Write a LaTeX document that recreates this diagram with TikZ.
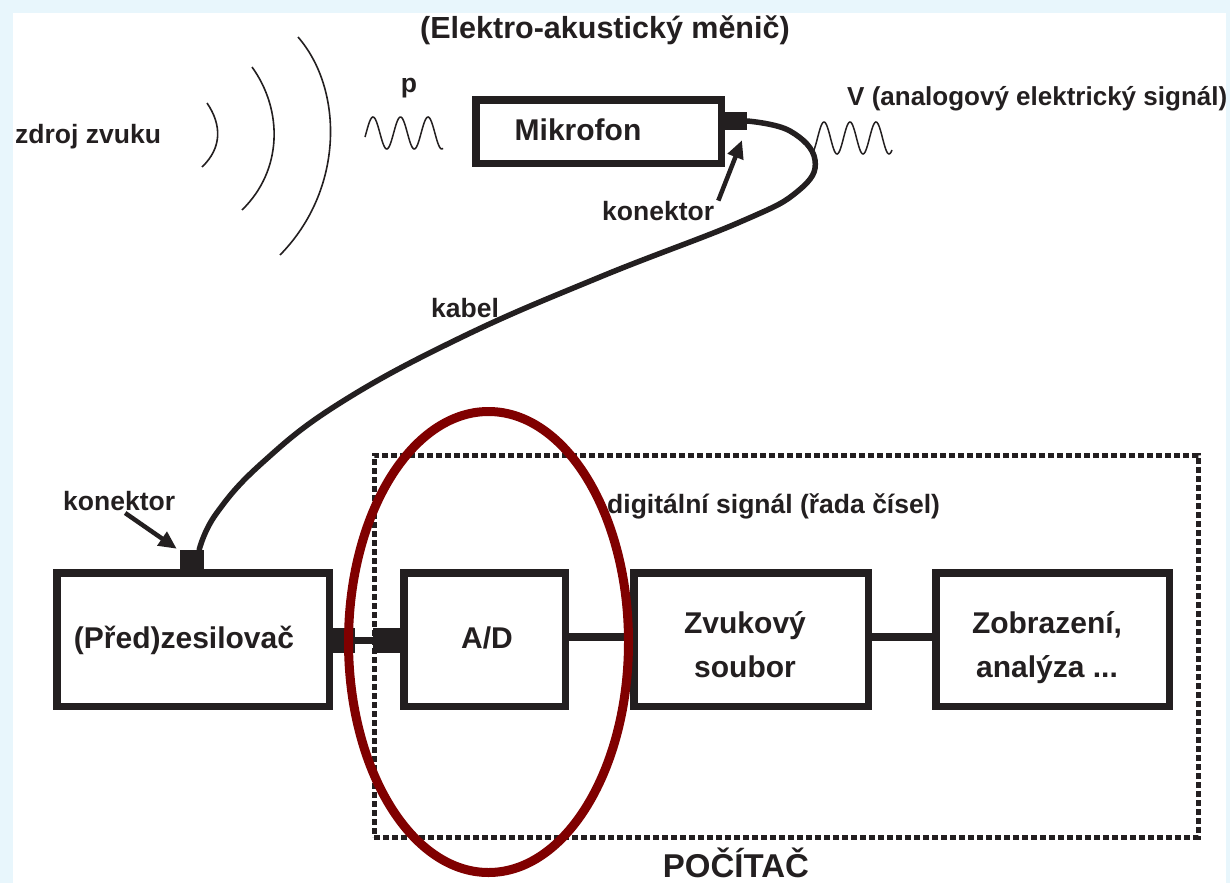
\documentclass[tikz,border=0pt]{standalone}
\usepackage{fontspec}
\setmainfont{Liberation Sans}
\usetikzlibrary{arrows.meta}
\definecolor{ink}{HTML}{231F20}
\definecolor{ringred}{HTML}{800000}
\definecolor{bgblue}{HTML}{E8F6FC}
\newcommand{\fsz}[2]{\fontsize{#1}{#2}\selectfont\bfseries}
\begin{document}
\begin{tikzpicture}[x=1pt,y=-1pt,
  box/.style={draw=ink, line width=7.5pt, fill=white, inner sep=0pt},
  conn/.style={fill=ink, inner sep=0pt},
  lbl/.style={text=ink, inner sep=0pt, font=\fsz{26.5}{30}},
  btxt/.style={text=ink, inner sep=0pt, font=\fsz{30}{44}},
  link/.style={draw=ink, line width=7.5pt},
  cable/.style={draw=ink, line width=5.5pt, line cap=round},
  karrow/.style={draw=ink, line width=4.5pt, -{Triangle[length=18pt,width=16pt]}},
  wave/.style={draw=ink, line width=1.5pt},
  arcline/.style={draw=ink, line width=1.6pt},
  pcframe/.style={draw=ink, line width=5pt, dash pattern=on 6pt off 3pt, inner sep=0pt},
  redring/.style={draw=ringred, line width=9pt}
]
\useasboundingbox (0,0) rectangle (1230,883);
\fill[bgblue] (0,0) rectangle (1230,883);
\fill[white] (13,13) rectangle (1226,883);

% top texts
\node[lbl, font=\fsz{30.5}{34}, anchor=base] (title) at (605,38) {(Elektro-akustický měnič)};
\node[lbl, anchor=base west] (zdroj) at (15,143) {zdroj zvuku};
\node[lbl, anchor=base] (p) at (409,92) {p};
\node[lbl, font=\fsz{26}{30}, anchor=base west] (vlab) at (847,105) {V (analogový elektrický signál)};

% sound waves
\draw[arcline] (207,103) .. controls (222,125) and (222,148) .. (202,167);
\draw[arcline] (252,67) .. controls (283,110) and (283,170) .. (242,210);
\draw[arcline] (298,37) .. controls (344,90) and (344,190) .. (280,255);

% sine waves
\draw[wave] plot[domain=0:78, samples=90, smooth] ({365+\x}, {133-16*cos((\x-8)*13.0909)});
\draw[wave] plot[domain=0:80, samples=90, smooth] ({812+\x}, {138-16*cos((\x-12)*13.8462)});

% computer frame
\node[pcframe, minimum width=824pt, minimum height=382pt] (pc) at (786,646) {};
\node[lbl, anchor=base west] (dig) at (607,513) {digitální signál (řada čísel)};
\node[lbl, font=\fsz{33}{36}, anchor=base] (pctxt) at (736,877) {POČÍTAČ};

% microphone
\node[box, minimum width=245.5pt, minimum height=63.5pt] (mic) at (598.5,131.5) {};
\node[btxt, anchor=base] (mictxt) at (578,140) {Mikrofon};
\node[conn, minimum width=26pt, minimum height=18pt] (micconn) at (734,121) {};

% blocks
\node[box, minimum width=272.5pt, minimum height=133.5pt] (pre) at (193,639.5) {};
\node[btxt, anchor=base] (pretxt) at (184,648) {(Před)zesilovač};
\node[conn, minimum width=24pt, minimum height=20pt] (preconn) at (192,560) {};
\node[conn, minimum width=24pt, minimum height=25pt] (preout) at (343,640.5) {};

\node[box, minimum width=161.5pt, minimum height=133.5pt] (ad) at (484.5,639.5) {};
\node[btxt, anchor=base] (adtxt) at (487,648) {A/D};
\node[conn, minimum width=29pt, minimum height=25pt] (adin) at (387.5,640.5) {};

\node[box, minimum width=234.5pt, minimum height=133.5pt] (zvuk) at (751,639.5) {};
\node[btxt, anchor=base, align=center] (zvuktxt) at (745,677) {Zvukový\\soubor};

\node[box, minimum width=233.5pt, minimum height=133.5pt] (zobr) at (1052.5,639.5) {};
\node[btxt, anchor=base, align=center] (zobrtxt) at (1047,677) {Zobrazení,\\analýza ...};

% links
\draw[link] (preout.east) -- (adin.west);
\draw[link] ([yshift=2.5pt]ad.east) -- ([yshift=2.5pt]zvuk.west);
\draw[link] ([yshift=2.5pt]zvuk.east) -- ([yshift=2.5pt]zobr.west);

% cable
\draw[cable] plot[smooth, tension=0.7] coordinates {(micconn.east) (790,131) (815,160) (798,191) (740,222) (600,277) (462,337) (340,403) (262,463) (216,514) ([xshift=-5pt]preconn.north east)};
\node[lbl, anchor=base west] (kabel) at (431,317) {kabel};

% connector labels
\node[lbl, anchor=base west] (konA) at (602,220) {konektor};
\draw[karrow] ([xshift=4pt]konA.north east) -- ([xshift=8pt,yshift=-10pt]micconn.south);
\node[lbl, anchor=base west] (konB) at (63,510) {konektor};
\draw[karrow] ([xshift=6pt,yshift=-3pt]konB.base) -- ([xshift=-3pt,yshift=1pt]preconn.north west);

% highlight
\draw[redring] (488.5,642) ellipse [x radius=140, y radius=230.5];
\end{tikzpicture}
\end{document}
